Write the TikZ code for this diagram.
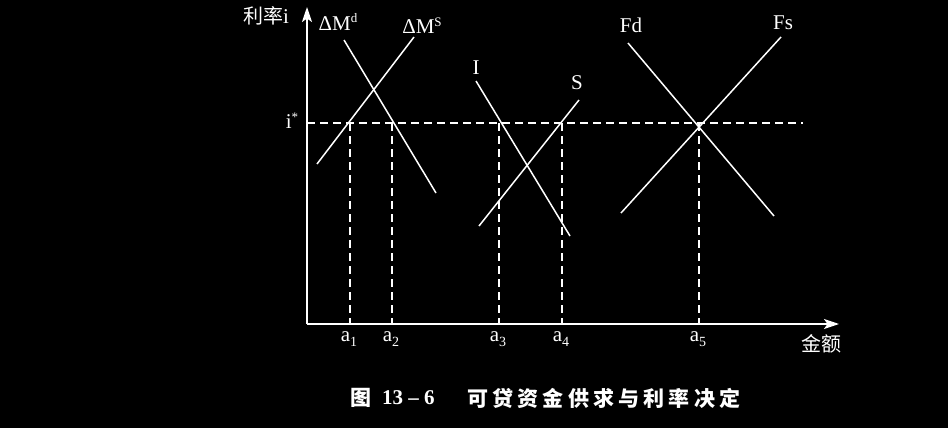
\documentclass[tikz,border=0pt]{standalone}
\usepackage{fontspec}
\setmainfont{Liberation Serif}
\newfontfamily\cjk{Noto Sans CJK SC}
\usetikzlibrary{arrows.meta}
\newcommand{\lowsub}[1]{\raisebox{-0.45ex}{\fontsize{14}{14}\selectfont #1}}
\newcommand{\hisup}[1]{\raisebox{0.75ex}{\fontsize{13}{13}\selectfont #1}}
\begin{document}
\begin{tikzpicture}[x=1pt,y=-1pt,
  curve/.style={white,line width=1.5pt},
  guide/.style={white,line width=1.5pt,dash pattern=on 8pt off 5pt},
  axis/.style={white,line width=1.6pt,-{Stealth[length=15pt,width=10pt,inset=3.5pt]}},
  lbl/.style={text=white,font=\fontsize{21}{21}\selectfont,inner sep=0pt},
  captext/.style={text=white,font=\fontsize{21}{21}\selectfont,inner sep=0pt,anchor=west},
]
\fill[black] (0,0) rectangle (948,428);
\useasboundingbox (0,0) rectangle (948,428);
% axes
\coordinate (O) at (307,324);
\coordinate (Ytop) at (307,7);
\coordinate (Xend) at (839,324);
\draw[axis] (O) -- (Ytop);
\draw[axis] (O) -- (Xend);
% i* level
\coordinate (iL) at (307,123);
\coordinate (iR) at (803,123);
\draw[guide] (iL) -- (iR);
% vertical guides
\foreach \n/\x in {1/350,2/392,3/499,4/562,5/699}{
  \coordinate (t\n) at (\x,123);
  \coordinate (b\n) at (\x,324);
  \draw[guide] (t\n) -- (b\n);
}
% curves
\coordinate (Md1) at (344,40);  \coordinate (Md2) at (436,193);
\coordinate (Ms1) at (414,37);  \coordinate (Ms2) at (317,164);
\coordinate (I1) at (476,81);   \coordinate (I2) at (570,236);
\coordinate (S1) at (579,100);  \coordinate (S2) at (479,226);
\coordinate (Fd1) at (628,43);  \coordinate (Fd2) at (774,216);
\coordinate (Fs1) at (781,37);  \coordinate (Fs2) at (621,213);
\draw[curve] (Md1) -- (Md2);
\draw[curve] (Ms1) -- (Ms2);
\draw[curve] (I1) -- (I2);
\draw[curve] (S1) -- (S2);
\draw[curve] (Fd1) -- (Fd2);
\draw[curve] (Fs1) -- (Fs2);
% labels
\node[lbl,anchor=west] (ylab) at (243,16) {{\cjk\fontsize{20}{20}\selectfont 利率}i};
\node[lbl] (lMd) at (338,22) {ΔM\hisup{d}};
\node[lbl] (lMs) at (422,26) {ΔM\hisup{S}};
\node[lbl] (lI) at (476,68) {I};
\node[lbl] (lS) at (577,83) {S};
\node[lbl] (lFd) at (631,25) {Fd};
\node[lbl] (lFs) at (783,23) {Fs};
\node[lbl] (lis) at (292,121) {i\hisup{*}};
\foreach \n/\x in {1/350,2/392,3/499,4/562,5/699}{
  \node[lbl] (a\n) at (\x-1,339) {a\lowsub{\n}};
}
\node[lbl] (xlab) at (821,344) {\cjk\fontsize{20}{20}\selectfont 金额};
% caption
\node[captext] (cfig) at (350,398) {\cjk\bfseries 图};
\node[captext] (cnum) at (382,398) {\bfseries 13 – 6};
\node[captext] (ctxt) at (467,398) {\cjk\bfseries\addfontfeature{LetterSpace=20}可贷资金供求与利率决定};
\end{tikzpicture}
\end{document}
